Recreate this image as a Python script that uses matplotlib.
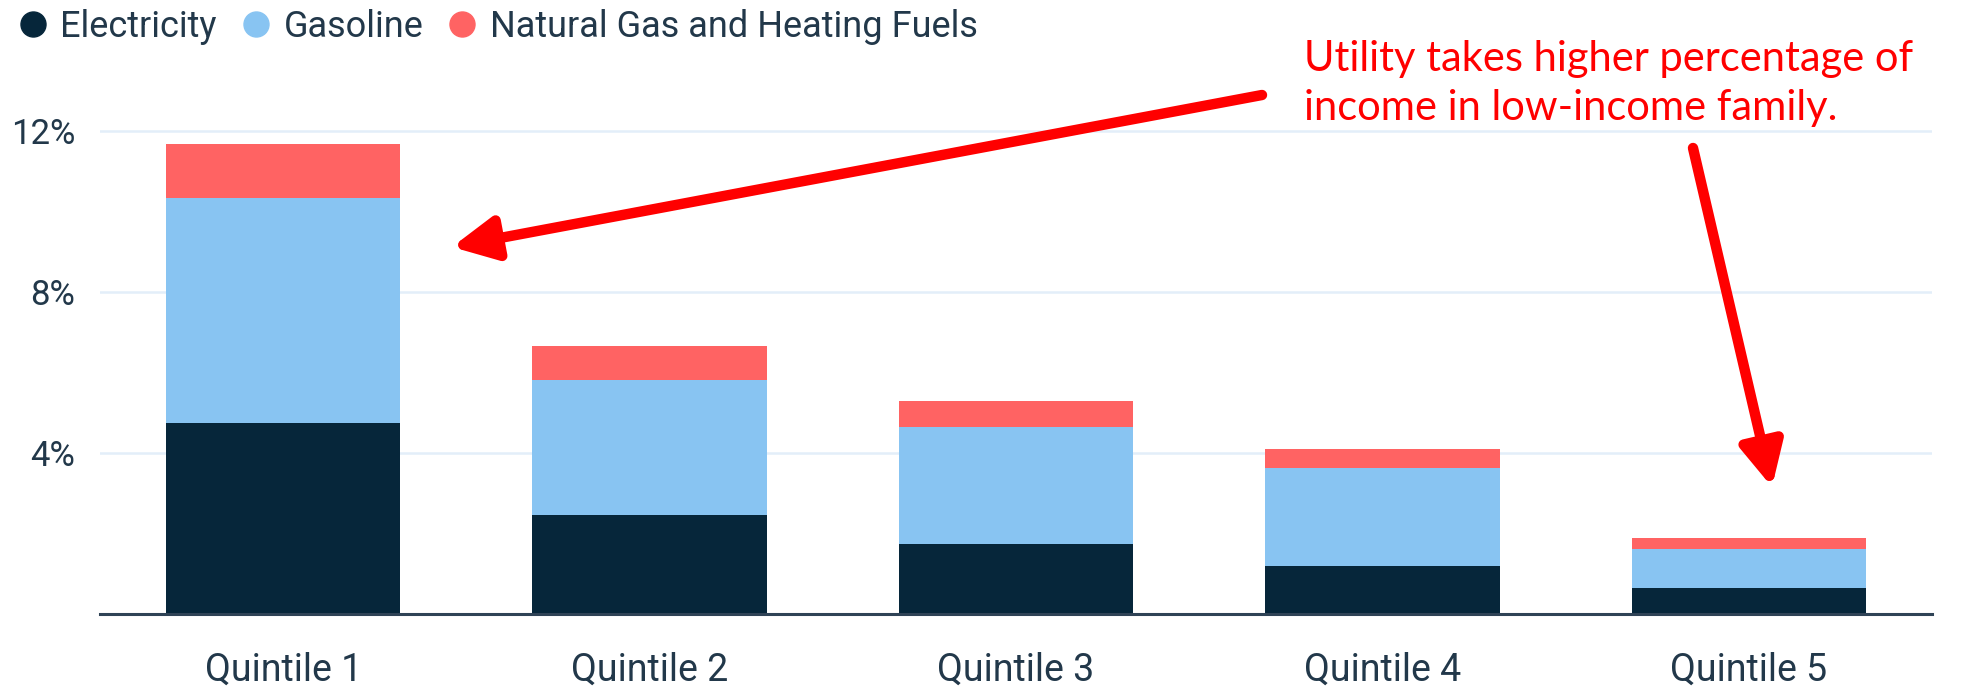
import matplotlib
matplotlib.use("Agg")
import matplotlib.pyplot as plt
from matplotlib.lines import Line2D
import numpy as np

# Household energy spending as a share of income, by income quintile (%)
categories = ["Quintile 1", "Quintile 2", "Quintile 3", "Quintile 4", "Quintile 5"]
electricity = [4.75, 2.45, 1.75, 1.20, 0.64]
gasoline = [5.60, 3.37, 2.89, 2.43, 0.97]
heating = [1.33, 0.84, 0.66, 0.48, 0.28]
series_names = ["Electricity", "Gasoline", "Natural Gas and Heating Fuels"]
y_ticks = [4, 8, 12]
y_tick_labels = ["4%", "8%", "12%"]
note_text = "Utility takes higher percentage of\nincome in low-income family."

colors = ["#06263A", "#88C4F2", "#FF6363"]
text_color = "#22384A"

W, H = 1966, 687
fig = plt.figure(figsize=(W / 100, H / 100), dpi=100)
fig.patch.set_facecolor("white")
plt.rcParams["font.family"] = ["Roboto", "DejaVu Sans"]

ax = fig.add_axes([100 / W, 1 - 614 / H, 1832 / W, 523 / H])
x = np.arange(len(categories))
bottom = np.zeros(len(categories))
for vals, col in zip([electricity, gasoline, heating], colors):
    ax.bar(x, vals, width=0.64, bottom=bottom, color=col, zorder=3,
           edgecolor="none")
    bottom += np.array(vals)

ax.set_xlim(-0.5, len(categories) - 0.5)
ax.set_ylim(0, 13)
ax.set_yticks(y_ticks)
ax.set_yticklabels(y_tick_labels)
ax.set_xticks(x)
ax.set_xticklabels(categories)
ax.yaxis.grid(True, color="#E3EEF9", linewidth=1.8, zorder=0)
ax.set_axisbelow(True)
for s in ["top", "right", "left"]:
    ax.spines[s].set_visible(False)
ax.spines["bottom"].set_color("#2F4356")
ax.spines["bottom"].set_linewidth(2.2)
ax.spines["bottom"].set_zorder(4)
ax.tick_params(axis="x", length=0, pad=27, labelsize=27, labelcolor=text_color)
ax.tick_params(axis="y", length=0, pad=18, labelsize=25, labelcolor=text_color)

# Legend row across the top
handles = [Line2D([], [], marker="o", linestyle="", markersize=18,
                  markerfacecolor=c, markeredgecolor=c) for c in colors]
fig.legend(handles, series_names, loc="center left",
           bbox_to_anchor=(20 / W, 1 - 27 / H), bbox_transform=fig.transFigure,
           ncol=3, frameon=False, fontsize=26, labelcolor=text_color,
           handlelength=0.72, handletextpad=0.4, columnspacing=0.72,
           borderpad=0, borderaxespad=0)

# Callout text and arrows (figure pixel coordinates)
fig.text(1304 / W, 1 - 40 / H, note_text, color="#FF0000",
         fontsize=30, family=["Lato", "DejaVu Sans"], ha="left", va="top",
         linespacing=1.36)

arrow_kw = dict(arrowstyle="-|>,head_length=26,head_width=13",
                mutation_scale=1, color="#FF0000", lw=7.5,
                shrinkA=0, shrinkB=0)
ax.annotate("", xy=(452, H - 247), xycoords="figure pixels",
            xytext=(1262, H - 95), textcoords="figure pixels",
            arrowprops=arrow_kw)
ax.annotate("", xy=(1772, H - 487), xycoords="figure pixels",
            xytext=(1693, H - 148), textcoords="figure pixels",
            arrowprops=arrow_kw)

fig.savefig("out.png", dpi=100, facecolor="white")
